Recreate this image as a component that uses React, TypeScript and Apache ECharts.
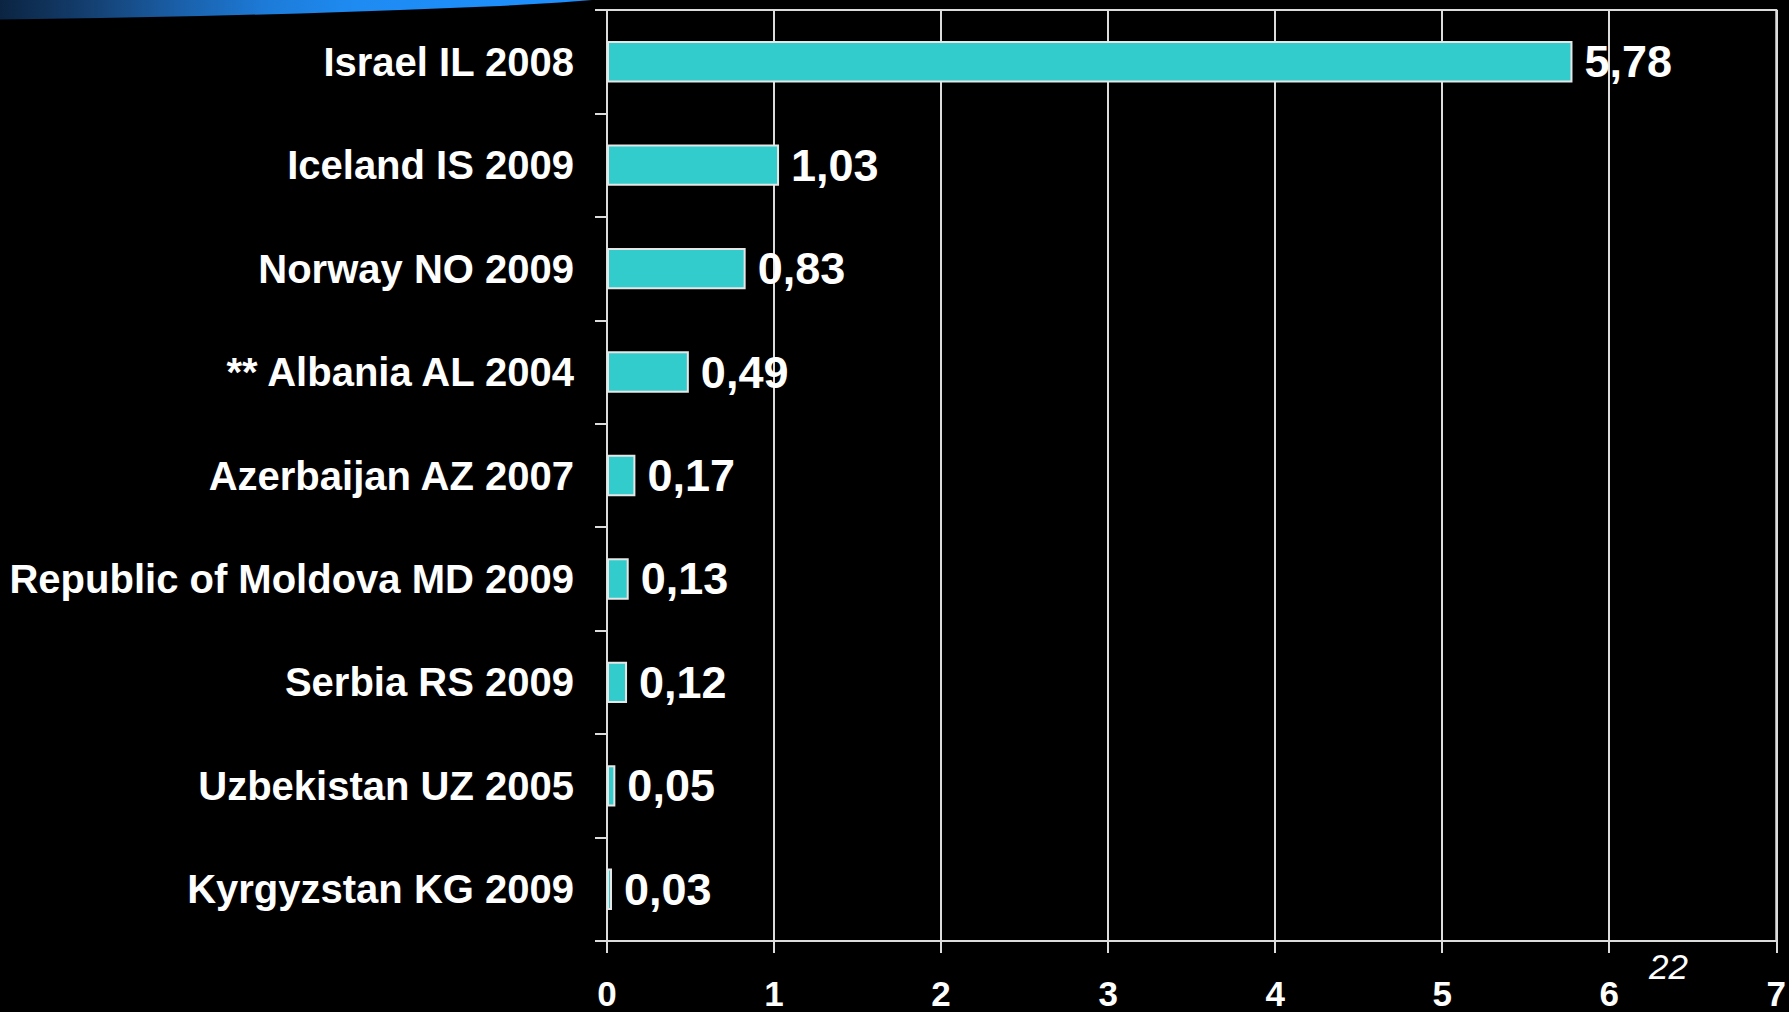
import React, { useEffect, useRef } from "react";
import * as echarts from "echarts";

const categories = [
  "Israel IL 2008",
  "Iceland IS 2009",
  "Norway NO 2009",
  "** Albania AL 2004",
  "Azerbaijan AZ 2007",
  "Republic of Moldova MD 2009",
  "Serbia RS 2009",
  "Uzbekistan UZ 2005",
  "Kyrgyzstan KG 2009",
];
const values = [5.78, 1.03, 0.83, 0.49, 0.17, 0.13, 0.12, 0.05, 0.03];
const xTicks = { min: 0, max: 7, interval: 1 };
const pageNumber = "22";

const FONT = '"Liberation Sans", Arial, Helvetica, sans-serif';

export default function App() {
  const ref = useRef<HTMLDivElement>(null);
  useEffect(() => {
    if (!ref.current) return;
    const chart = echarts.init(ref.current, undefined, { renderer: "svg" });
    const lineColor = "#dcdcdc";
    chart.setOption({
      animation: false,
      backgroundColor: "#000000",
      textStyle: { fontFamily: FONT },
      grid: {
        left: 607,
        right: 9,
        top: 10,
        bottom: 71,
        show: true,
        borderColor: lineColor,
        borderWidth: 2,
        backgroundColor: "transparent",
      },
      xAxis: {
        type: "value",
        min: xTicks.min,
        max: xTicks.max,
        interval: xTicks.interval,
        axisLine: { show: true, lineStyle: { color: lineColor, width: 2 } },
        axisTick: { show: true, length: 12, lineStyle: { color: lineColor, width: 2 } },
        splitLine: { show: true, lineStyle: { color: lineColor, width: 2 } },
        axisLabel: {
          color: "#ffffff",
          fontSize: 35,
          fontWeight: "bold",
          fontFamily: FONT,
          lineHeight: 28,
          margin: 38,
        },
      },
      yAxis: {
        type: "category",
        data: categories,
        inverse: true,
        axisLine: { show: true, lineStyle: { color: lineColor, width: 2 } },
        axisTick: { show: true, length: 12, lineStyle: { color: lineColor, width: 2 } },
        splitLine: { show: false },
        axisLabel: {
          color: "#ffffff",
          fontSize: 40,
          fontWeight: "bold",
          fontFamily: FONT,
          margin: 33,
        },
      },
      series: [
        {
          type: "bar",
          data: values,
          barWidth: "40%",
          itemStyle: { color: "#33CCCC", borderColor: "#e6e6e6", borderWidth: 2 },
          label: {
            show: true,
            position: "right",
            distance: 12,
            color: "#ffffff",
            fontSize: 45,
            fontWeight: "bold",
            fontFamily: FONT,
            formatter: (p: any) => Number(p.value).toFixed(2).replace(".", ","),
          },
        },
      ],
      graphic: [
        {
          type: "polygon",
          z: -1,
          shape: {
            points: [
              [0, 0],
              [592, 0],
              [560, 2.5],
              [500, 6],
              [400, 10],
              [300, 13.5],
              [200, 16],
              [100, 18],
              [0, 19.5],
            ],
          },
          style: {
            fill: new echarts.graphic.LinearGradient(0, 0, 1, 0, [
              { offset: 0, color: "#0b2442" },
              { offset: 0.15, color: "#143f70" },
              { offset: 0.3, color: "#1a5fa8" },
              { offset: 0.45, color: "#1d7bd8" },
              { offset: 0.6, color: "#1e8bf2" },
              { offset: 1, color: "#1e90ff" },
            ]),
          },
        },
        {
          type: "text",
          x: 1649,
          y: 966,
          style: {
            text: pageNumber,
            fill: "#ffffff",
            fontSize: 35,
            fontStyle: "italic",
            fontFamily: FONT,
            textAlign: "left",
            textVerticalAlign: "middle",
          },
        },
      ],
    });
    return () => chart.dispose();
  }, []);
  return (
    <div
      ref={ref}
      style={{ position: "fixed", left: 0, top: 0, width: 1789, height: 1012, background: "#000" }}
    />
  );
}
